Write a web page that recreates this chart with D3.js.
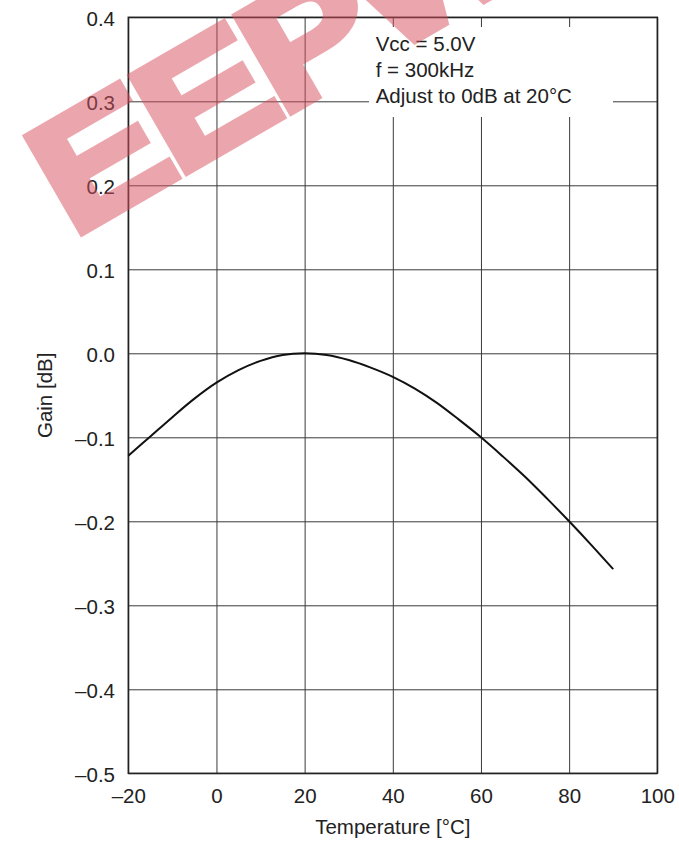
<!DOCTYPE html>
<html>
<head>
<meta charset="utf-8">
<script src="https://cdn.jsdelivr.net/npm/d3@7"></script>
<style>
  body { margin: 0; background: #fff; }
  text { font-family: "Liberation Sans", Arial, sans-serif; fill: #222; }
</style>
</head>
<body>
<div id="chart"></div>
<script>
// data
const temps = [-20, -15, -10, -5, 0, 5, 10, 15, 20, 25, 30, 35, 40, 45, 50, 55, 60, 65, 70, 75, 80, 85, 90];
const gain  = [-0.122, -0.099, -0.076, -0.054, -0.035, -0.020, -0.009, -0.002, 0.000, -0.002, -0.008, -0.017,
               -0.028, -0.042, -0.059, -0.079, -0.100, -0.123, -0.147, -0.173, -0.200, -0.228, -0.257];
const xTicks = [-20, 0, 20, 40, 60, 80, 100];
const yTicks = [-0.5, -0.4, -0.3, -0.2, -0.1, 0.0, 0.1, 0.2, 0.3, 0.4];
const notes = ["Vcc = 5.0V", "f = 300kHz", "Adjust to 0dB at 20\u00b0C"];

// dimensions and margins
const W = 679, H = 844;
const margin = {top: 17.3, right: 21.7, bottom: 70.7, left: 128.3},
      width  = W - margin.left - margin.right,
      height = H - margin.top - margin.bottom;

const fmtNum = v => (v < 0 ? "\u2013" : "") + Math.abs(v);
const fmtY = v => (v < -1e-9 ? "\u2013" : "") + Math.abs(v).toFixed(1);

const svg = d3.select("#chart").append("svg")
    .attr("width", W)
    .attr("height", H),
  g = svg.append("g")
    .attr("transform", "translate(" + margin.left + "," + margin.top + ")");

const x = d3.scaleLinear().domain([-20, 100]).range([0, width]);
const y = d3.scaleLinear().domain([-0.5, 0.4]).range([height, 0]);

// grid + tick labels via axes
const xAxis = g.append("g")
    .attr("transform", "translate(0," + height + ")")
    .call(d3.axisBottom(x).tickValues(xTicks).tickFormat(fmtNum)
      .tickSizeInner(-height).tickSizeOuter(0).tickPadding(15));
const yAxis = g.append("g")
    .call(d3.axisLeft(y).tickValues(yTicks).tickFormat(fmtY)
      .tickSizeInner(-width).tickSizeOuter(0).tickPadding(13.3));

[xAxis, yAxis].forEach(a => {
  a.select(".domain").remove();
  a.selectAll(".tick line").attr("stroke", "#3a3a3a").attr("stroke-width", 1);
  a.selectAll(".tick text").style("font-size", "20.5px").attr("fill", "#222");
});
yAxis.selectAll(".tick text").attr("dy", "0.41em");

// white box behind the notes
g.append("rect")
  .attr("x", 369 - margin.left).attr("y", 27 - margin.top)
  .attr("width", 244).attr("height", 90)
  .attr("fill", "#fff");

g.selectAll(".note")
  .data(notes)
  .enter().append("text")
    .attr("class", "note")
    .attr("x", 375.7 - margin.left)
    .attr("y", (d, i) => 51 - margin.top + i * 26.1)
    .style("font-size", "20.5px")
    .text(d => d);

// frame
g.append("rect")
  .attr("width", width).attr("height", height)
  .attr("fill", "none").attr("stroke", "#222").attr("stroke-width", 1.5);

// curve
const line = d3.line()
  .x(i => x(temps[i]))
  .y(i => y(gain[i]))
  .curve(d3.curveCatmullRom.alpha(0.5));

g.append("path")
  .datum(d3.range(temps.length))
  .attr("fill", "none")
  .attr("stroke", "#111")
  .attr("stroke-width", 2)
  .attr("d", line);

// axis titles
g.append("text")
  .attr("x", width / 2).attr("y", 834 - margin.top)
  .attr("text-anchor", "middle")
  .style("font-size", "20.5px")
  .text("Temperature [\u00b0C]");

g.append("text")
  .attr("transform", "translate(" + (52 - margin.left) + "," + (height / 2) + ") rotate(-90)")
  .attr("text-anchor", "middle")
  .style("font-size", "20.5px")
  .text("Gain [dB]");

// watermark
svg.append("text")
  .attr("transform", "translate(72,238) rotate(-30) scale(1.2,1)")
  .style("font-size", "160px")
  .style("font-weight", "bold")
  .style("fill", "#d9505e")
  .style("stroke", "#d9505e")
  .style("stroke-width", 8)
  .style("stroke-linejoin", "miter")
  .style("opacity", 0.5)
  .attr("letter-spacing", -6)
  .text("EEPW");
</script>
</body>
</html>
